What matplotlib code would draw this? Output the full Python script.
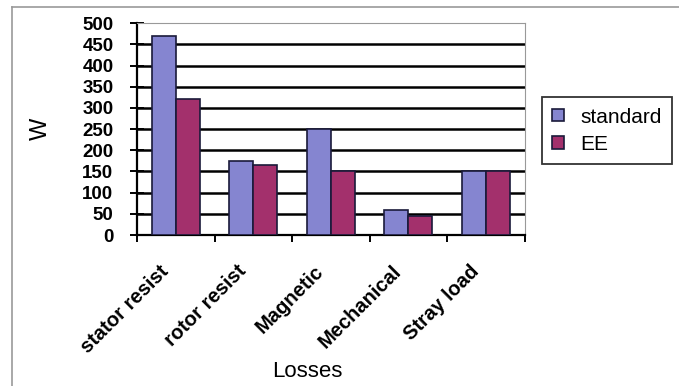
import numpy as np
import matplotlib.pyplot as plt
from matplotlib.lines import Line2D

categories = ['stator resist', 'rotor resist', 'Magnetic', 'Mechanical', 'Stray load']
standard = [470, 175, 250, 60, 150]
ee = [320, 165, 150, 45, 150]
yticks = np.arange(0, 501, 50)

plt.rcParams['font.family'] = ['Liberation Sans', 'DejaVu Sans']

fig = plt.figure(figsize=(6.79, 3.86), dpi=100)
ax = fig.add_axes([0.2018, 0.391, 0.571, 0.549])

x = np.arange(len(categories))
w = 0.31
ax.bar(x - w / 2, standard, w, color='#8585d0', edgecolor='#1a1a3a', linewidth=1.2,
       label='standard', zorder=3)
ax.bar(x + w / 2, ee, w, color='#a3306c', edgecolor='#1a1a3a', linewidth=1.2,
       label='EE', zorder=3)

ax.set_xlim(-0.5, len(categories) - 0.5)
ax.set_ylim(0, 500)
ax.set_yticks(yticks)
ax.set_yticklabels([str(v) for v in yticks], fontsize=13.5, fontweight='bold')
for t in yticks[1:-1]:
    ax.axhline(t, color='black', linewidth=1.8, zorder=1)

# category boundaries carry the ticks, names go under each group
ax.set_xticks(np.arange(len(categories) + 1) - 0.5)
ax.set_xticklabels([])
for xi, name in zip(x, categories):
    ax.annotate(name, xy=(xi, 0), xycoords=('data', 'axes fraction'),
                xytext=(-12, -19), textcoords='offset points',
                rotation=45, ha='right', va='top', rotation_mode='anchor',
                fontsize=14.5, fontweight='bold', annotation_clip=False)
ax.tick_params(axis='x', which='major', direction='out', length=5, width=1.4)
ax.tick_params(axis='y', direction='inout', length=10, width=1.4, pad=12)

ax.spines['left'].set_linewidth(1.6)
ax.spines['bottom'].set_linewidth(1.6)
ax.spines['top'].set_color('#999999')
ax.spines['right'].set_color('#999999')

ax.set_ylabel('W', fontsize=17, labelpad=22)
ax.set_xlabel('Losses', fontsize=16, va='center')
ax.xaxis.set_label_coords(0.44, -0.645)

leg = ax.legend(loc='upper left', bbox_to_anchor=(1.044, 0.651), fontsize=15,
                frameon=True, fancybox=False, edgecolor='black',
                handlelength=0.55, handleheight=0.55, handletextpad=0.8,
                borderpad=0.5, labelspacing=0.4, borderaxespad=0)
leg.get_frame().set_linewidth(1.3)

# outer chart frame (top and left edges only)
fig.add_artist(Line2D([12 / 679, 1], [1 - 7 / 386, 1 - 7 / 386], color='#999999', lw=1.2))
fig.add_artist(Line2D([12 / 679, 12 / 679], [0, 1 - 7 / 386], color='#999999', lw=1.2))

fig.savefig('out.png', dpi=100)
